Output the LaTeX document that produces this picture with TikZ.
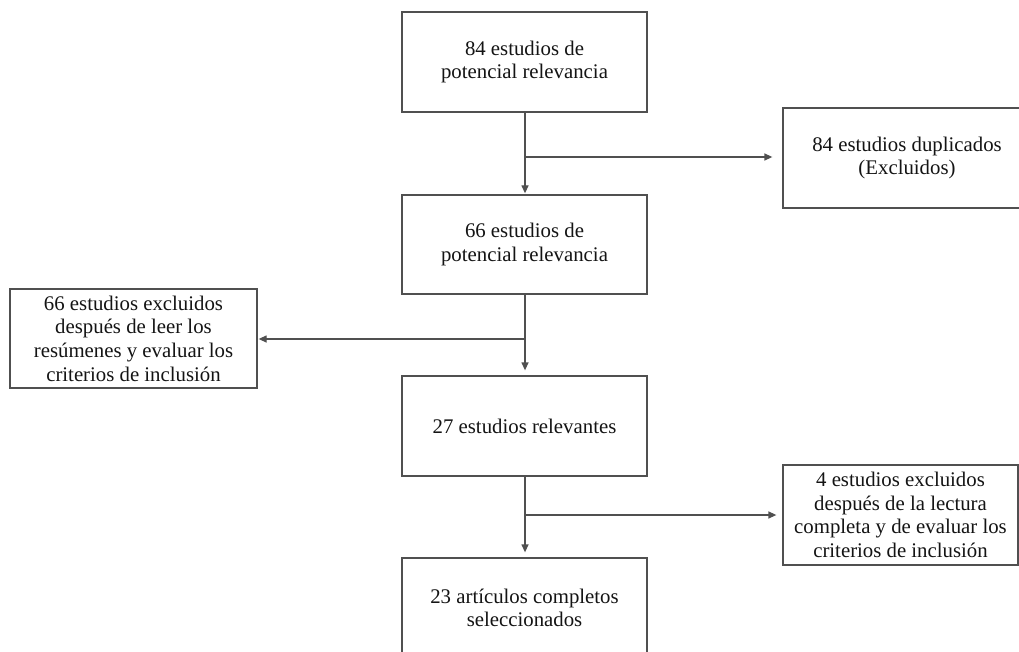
\documentclass[tikz,border=0pt]{standalone}
\usepackage{fontspec}
\setmainfont{Liberation Serif}
\usetikzlibrary{arrows.meta}
\definecolor{linegray}{HTML}{505050}
\definecolor{txt}{HTML}{141414}
\tikzset{
  boxnode/.style={draw=linegray, line width=1.3pt, rectangle, inner sep=0pt, align=center,
    text=txt, font=\fontsize{20.8}{23.7}\selectfont},
  mainbox/.style={boxnode, minimum width=245pt, minimum height=100pt},
  link/.style={draw=linegray, line width=1.3pt},
  arr/.style={link, -{Triangle[length=8pt,width=7pt]}}
}
\begin{document}
\begin{tikzpicture}[x=1pt,y=-1pt]
\useasboundingbox (0,0) rectangle (1019,652);
\clip (0,0) rectangle (1019,652);
\fill[white] (0,0) rectangle (1019,652);

\node[mainbox] (b1) at (524.5,62) {84 estudios de\\potencial relevancia};
\node[boxnode, minimum width=248pt, minimum height=100pt] (b2) at (907,158) {84 estudios duplicados\\(Excluidos)};
\node[mainbox, minimum height=99pt] (b3) at (524.5,244.5) {66 estudios de\\potencial relevancia};
\node[boxnode, minimum width=247pt, minimum height=99pt] (b4) at (133.5,338.5) {66 estudios excluidos\\después de leer los\\resúmenes y evaluar los\\criterios de inclusión};
\node[mainbox] (b5) at (524.5,426) {27 estudios relevantes};
\node[boxnode, minimum width=235pt, minimum height=100pt] (b6) at (900.5,515) {4 estudios excluidos\\después de la lectura\\completa y de evaluar los\\criterios de inclusión};
\node[mainbox] (b7) at (524.5,608) {23 artículos completos\\seleccionados};

\coordinate (j1) at (525,157);
\coordinate (j2) at (525,339);
\coordinate (j3) at (525,515);

\draw[arr, shorten >=1pt] (b1.south -| j1) -- (b3.north -| j1);
\draw[arr, shorten >=10pt] (j1) -- (b2.west |- j1);
\draw[arr, shorten >=5pt] (b3.south -| j2) -- (b5.north -| j2);
\draw[arr, shorten >=1pt] (j2) -- (b4.east |- j2);
\draw[arr, shorten >=5pt] (b5.south -| j3) -- (b7.north -| j3);
\draw[arr, shorten >=6pt] (j3) -- (b6.west |- j3);
\end{tikzpicture}
\end{document}
